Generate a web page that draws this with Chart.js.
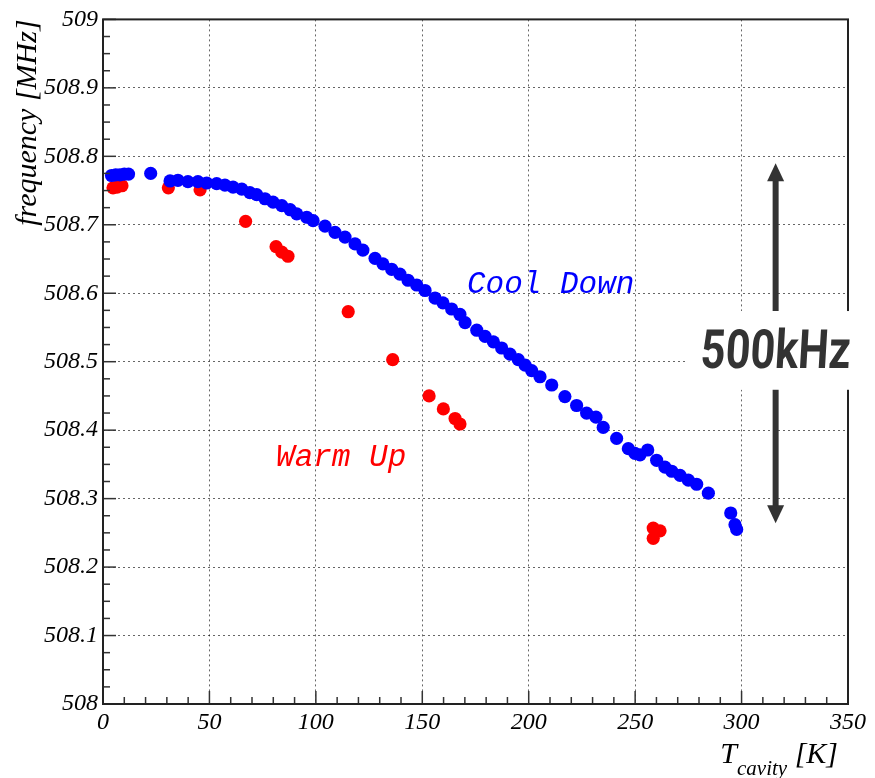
<!DOCTYPE html>
<html>
<head>
<meta charset="utf-8">
<script src="https://cdn.jsdelivr.net/npm/chart.js@4"></script>
<style>
  body { margin: 0; background: #fff; }
  #wrap { width: 875px; height: 778px; }
</style>
</head>
<body>
<div id="wrap"><canvas id="freqChart"></canvas></div>
<script>
// cool down run (blue)
const coolT = [4, 6, 8, 10, 12, 22.4, 31.5, 35.2, 39.9, 44.6, 48.7, 53.4, 57.3, 61.1, 65.2, 69.0, 72.2, 76.1, 79.9, 84.0, 87.9, 91.0, 95.7, 98.7, 104.3, 109.0, 113.7, 118.4, 122.1, 127.8, 131.5, 135.6, 139.5, 143.3, 147.4, 151.3, 156.0, 159.7, 163.8, 167.7, 170.1, 175.6, 179.5, 183.4, 187.3, 191.2, 195.1, 198.3, 201.4, 205.3, 210.8, 217.0, 222.5, 227.2, 231.6, 235.0, 241.3, 246.8, 249.9, 252.3, 255.9, 260.1, 264.0, 267.2, 271.1, 275.0, 278.9, 284.4, 294.9, 296.9, 297.7];
const coolF = [508.772, 508.773, 508.773, 508.774, 508.774, 508.775, 508.764, 508.765, 508.763, 508.763, 508.761, 508.760, 508.758, 508.755, 508.752, 508.747, 508.744, 508.738, 508.733, 508.728, 508.722, 508.716, 508.711, 508.706, 508.698, 508.689, 508.682, 508.672, 508.663, 508.651, 508.643, 508.635, 508.628, 508.619, 508.612, 508.604, 508.593, 508.586, 508.577, 508.569, 508.557, 508.546, 508.537, 508.529, 508.520, 508.511, 508.503, 508.495, 508.487, 508.478, 508.466, 508.449, 508.436, 508.425, 508.419, 508.404, 508.388, 508.373, 508.366, 508.364, 508.371, 508.356, 508.346, 508.340, 508.334, 508.327, 508.321, 508.308, 508.279, 508.262, 508.255];

// warm up run (red)
const warmT = [4.7, 6.6, 8.9, 30.7, 45.6, 67.0, 81.3, 84.0, 86.9, 115.2, 136.1, 153.2, 159.9, 165.4, 167.7, 258.5, 261.7, 258.5];
const warmF = [508.754, 508.755, 508.757, 508.754, 508.751, 508.705, 508.668, 508.660, 508.654, 508.573, 508.503, 508.450, 508.431, 508.417, 508.409, 508.257, 508.253, 508.242];

const xTicks = [0, 50, 100, 150, 200, 250, 300, 350];
const yTicks = [508, 508.1, 508.2, 508.3, 508.4, 508.5, 508.6, 508.7, 508.8, 508.9, 509];

const toPoints = (xs, ys) => xs.map((x, i) => ({ x: x, y: ys[i] }));

const tickFont = { family: 'Liberation Serif', style: 'italic', size: 24 };

// frame, minor ticks, x title and the labels drawn on top
const decorations = {
  id: 'decorations',
  afterDraw(chart) {
    const ctx = chart.ctx;
    const a = chart.chartArea;
    const xs = chart.scales.x;
    const ys = chart.scales.y;
    ctx.save();

    // tick marks inside the frame
    ctx.strokeStyle = '#333';
    ctx.lineWidth = 1.5;
    for (let v = 0; v <= 350; v += 10) {
      const px = xs.getPixelForValue(v);
      const len = v % 50 === 0 ? 13 : 7;
      ctx.beginPath(); ctx.moveTo(px, a.bottom); ctx.lineTo(px, a.bottom - len); ctx.stroke();
    }
    for (let i = 0; i <= 40; i++) {
      const py = ys.getPixelForValue(508 + i * 0.025);
      const len = i % 4 === 0 ? 13 : 7;
      ctx.beginPath(); ctx.moveTo(a.left, py); ctx.lineTo(a.left + len, py); ctx.stroke();
    }

    // frame
    ctx.strokeStyle = '#222';
    ctx.lineWidth = 2;
    ctx.strokeRect(a.left, a.top, a.right - a.left, a.bottom - a.top);

    // white panel behind the 500kHz label
    const ax = xs.getPixelForValue(316);
    ctx.fillStyle = '#fff';
    ctx.fillRect(688, ys.getPixelForValue(508.574), chart.width - 688, ys.getPixelForValue(508.459) - ys.getPixelForValue(508.574));

    // arrows
    ctx.fillStyle = '#333';
    ctx.strokeStyle = '#333';
    ctx.lineWidth = 6;
    const upTip = ys.getPixelForValue(508.79), upBase = ys.getPixelForValue(508.574);
    const dnTip = ys.getPixelForValue(508.264), dnBase = ys.getPixelForValue(508.459);
    ctx.beginPath(); ctx.moveTo(ax, upBase); ctx.lineTo(ax, upTip + 16); ctx.stroke();
    ctx.beginPath(); ctx.moveTo(ax, upTip); ctx.lineTo(ax - 8.5, upTip + 18); ctx.lineTo(ax + 8.5, upTip + 18); ctx.closePath(); ctx.fill();
    ctx.beginPath(); ctx.moveTo(ax, dnBase); ctx.lineTo(ax, dnTip - 16); ctx.stroke();
    ctx.beginPath(); ctx.moveTo(ax, dnTip); ctx.lineTo(ax - 8.5, dnTip - 18); ctx.lineTo(ax + 8.5, dnTip - 18); ctx.closePath(); ctx.fill();

    // 500kHz
    ctx.save();
    ctx.translate(ax, ys.getPixelForValue(508.51));
    ctx.transform(0.8, 0, -0.06, 1, 0, 0);
    ctx.font = 'bold 54px Roboto';
    ctx.textAlign = 'center';
    ctx.textBaseline = 'middle';
    ctx.fillText('500kHz', 0, 0);
    ctx.restore();

    // series labels
    ctx.font = 'italic 31px "Liberation Mono"';
    ctx.textBaseline = 'middle';
    ctx.textAlign = 'left';
    ctx.fillStyle = '#0000ff';
    ctx.fillText('Cool Down', xs.getPixelForValue(171), ys.getPixelForValue(508.612));
    ctx.fillStyle = '#ff0000';
    ctx.fillText('Warm Up', xs.getPixelForValue(81.3), ys.getPixelForValue(508.359));

    // x axis title: T_cavity [K]
    ctx.fillStyle = '#000';
    ctx.textBaseline = 'alphabetic';
    const base = a.bottom + 59;
    ctx.font = 'italic 30px "Liberation Serif"';
    const wT = ctx.measureText('T').width;
    const wK = ctx.measureText(' [K]').width;
    ctx.font = 'italic 21px "Liberation Serif"';
    const wSub = ctx.measureText('cavity').width;
    let x0 = a.right - 10 - wT - wSub - wK;
    ctx.font = 'italic 30px "Liberation Serif"';
    ctx.fillText('T', x0, base);
    ctx.font = 'italic 21px "Liberation Serif"';
    ctx.fillText('cavity', x0 + wT, base + 12);
    ctx.font = 'italic 30px "Liberation Serif"';
    ctx.fillText(' [K]', x0 + wT + wSub, base);

    ctx.restore();
  }
};

const data = {
  datasets: [{
    label: 'Cool Down',
    data: toPoints(coolT, coolF),
    backgroundColor: '#0000ff',
    borderColor: '#0000ff',
    pointRadius: 6.6,
    pointHoverRadius: 6.6,
    borderWidth: 0
  }, {
    label: 'Warm Up',
    data: toPoints(warmT, warmF),
    backgroundColor: '#ff0000',
    borderColor: '#ff0000',
    pointRadius: 6.6,
    pointHoverRadius: 6.6,
    borderWidth: 0
  }]
};

const config = {
  type: 'scatter',
  data: data,
  options: {
    responsive: true,
    maintainAspectRatio: false,
    animation: false,
    layout: { padding: { left: 0, right: 27, top: 14, bottom: 0 } },
    plugins: {
      legend: { display: false },
      tooltip: { enabled: false }
    },
    scales: {
      x: {
        type: 'linear',
        min: 0,
        max: 350,
        afterFit: (scale) => { scale.height = 74; },
        afterBuildTicks: (scale) => { scale.ticks = xTicks.map(v => ({ value: v })); },
        ticks: { font: tickFont, color: '#000', padding: 4, maxRotation: 0, callback: (v) => String(v) },
        grid: { color: 'rgba(0,0,0,0.6)', lineWidth: 1, drawTicks: false },
        border: { display: false, dash: [2, 3] }
      },
      y: {
        type: 'linear',
        min: 508,
        max: 509,
        afterFit: (scale) => { scale.width = 103; },
        afterBuildTicks: (scale) => { scale.ticks = yTicks.map(v => ({ value: v })); },
        ticks: { font: tickFont, color: '#000', padding: 5, callback: (v) => String(+v.toFixed(1)) },
        grid: { color: 'rgba(0,0,0,0.6)', lineWidth: 1, drawTicks: false },
        border: { display: false, dash: [2, 3] },
        title: {
          display: true,
          text: 'frequency [MHz]',
          align: 'end',
          color: '#000',
          font: { family: 'Liberation Serif', style: 'italic', size: 30 },
          padding: { top: 10, bottom: 0 }
        }
      }
    }
  },
  plugins: [decorations]
};

new Chart(document.getElementById('freqChart').getContext('2d'), config);
</script>
</body>
</html>
